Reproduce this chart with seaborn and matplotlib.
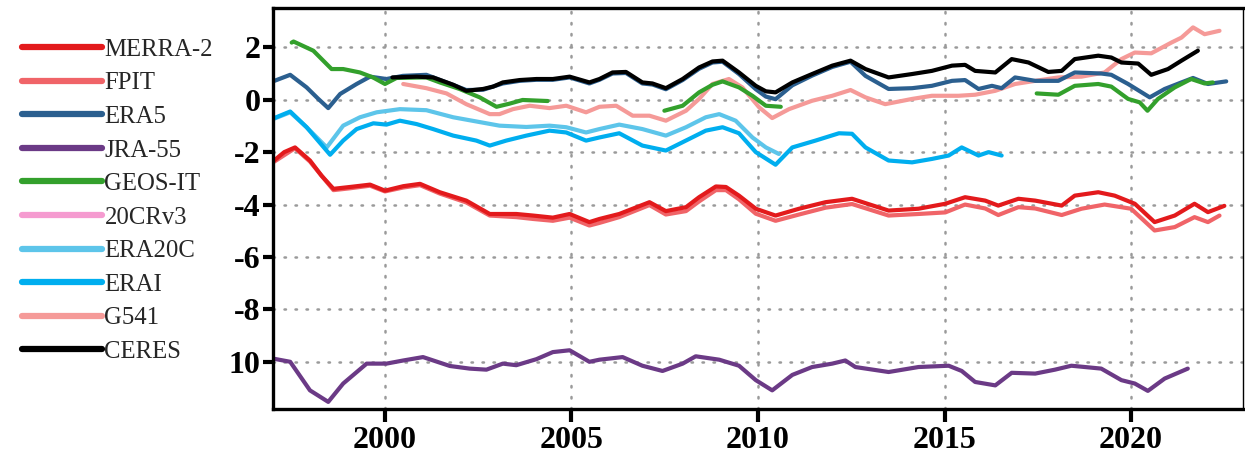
import numpy as np
import pandas as pd
import matplotlib
matplotlib.use("Agg")
import matplotlib.pyplot as plt
import seaborn as sns
from matplotlib.lines import Line2D

# ---------------- data ----------------
series_names = ["MERRA-2", "FPIT", "ERA5", "JRA-55", "GEOS-IT",
                "20CRv3", "ERA20C", "ERAI", "G541", "CERES"]
colors = ["#E31A1C", "#F06468", "#2B5F8F", "#6B3A86", "#33A02C",
          "#F59BD0", "#5DC5EA", "#00AEEF", "#F59A98", "#000000"]

merra2_t = [1996.97, 1997.3, 1997.59, 1997.99, 1998.3, 1998.62, 1999.06, 1999.6, 2000.0, 2000.49,
            2000.94, 2001.47, 2002.18, 2002.81, 2003.52, 2003.97, 2004.5, 2004.95, 2005.48, 2005.75,
            2006.28, 2007.09, 2007.53, 2008.07, 2008.42, 2008.87, 2009.14, 2009.49, 2009.94, 2010.47,
            2011.1, 2011.81, 2012.52, 2013.5, 2014.3, 2015.02, 2015.55, 2016.09, 2016.44, 2016.98,
            2017.43, 2018.14, 2018.49, 2019.12, 2019.56, 2020.1, 2020.63, 2021.17, 2021.7, 2022.06, 2022.5]
merra2_v = [-2.39, -2.0, -1.82, -2.32, -2.9, -3.40, -3.33, -3.24, -3.47, -3.30,
            -3.21, -3.53, -3.85, -4.36, -4.36, -4.42, -4.50, -4.36, -4.67, -4.55,
            -4.36, -3.91, -4.25, -4.10, -3.72, -3.31, -3.33, -3.66, -4.16, -4.42,
            -4.16, -3.91, -3.78, -4.23, -4.16, -3.97, -3.72, -3.85, -4.04, -3.78,
            -3.85, -4.04, -3.66, -3.53, -3.66, -3.97, -4.67, -4.42, -3.97, -4.29, -4.05]

fpit_t = [1996.97, 1997.59, 1997.99, 1998.62, 1999.06, 1999.6, 2000.0, 2000.49, 2000.94, 2001.47,
          2002.18, 2002.81, 2003.52, 2003.97, 2004.5, 2004.95, 2005.48, 2005.75, 2006.28, 2007.09,
          2007.53, 2008.07, 2008.42, 2008.87, 2009.14, 2009.49, 2009.94, 2010.47, 2011.1, 2011.81,
          2012.52, 2013.5, 2014.3, 2015.02, 2015.55, 2016.09, 2016.44, 2016.98, 2017.43, 2018.14,
          2018.67, 2019.29, 2020.0, 2020.63, 2021.17, 2021.7, 2022.06, 2022.37]
fpit_v = [-2.42, -1.85, -2.36, -3.45, -3.38, -3.28, -3.50, -3.35, -3.26, -3.58,
          -3.92, -4.42, -4.48, -4.55, -4.62, -4.50, -4.80, -4.70, -4.48, -4.02,
          -4.38, -4.25, -3.88, -3.45, -3.45, -3.80, -4.35, -4.62, -4.38, -4.12,
          -3.98, -4.42, -4.36, -4.30, -4.00, -4.15, -4.40, -4.10, -4.15, -4.40,
          -4.16, -4.00, -4.16, -4.99, -4.86, -4.48, -4.67, -4.42]

era5_t = [1997.0, 1997.46, 1997.9, 1998.2, 1998.48, 1998.8, 1999.24, 1999.6, 2000.04, 2000.48,
          2001.11, 2001.65, 2002.18, 2002.63, 2003.16, 2003.61, 2004.06, 2004.5, 2004.95, 2005.48,
          2005.75, 2006.1, 2006.46, 2006.9, 2007.17, 2007.53, 2007.98, 2008.42, 2008.78, 2009.05,
          2009.49, 2009.94, 2010.21, 2010.47, 2010.92, 2011.45, 2011.99, 2012.48, 2012.88, 2013.5,
          2014.13, 2014.66, 2015.2, 2015.55, 2015.91, 2016.27, 2016.53, 2016.89, 2017.43, 2018.05,
          2018.49, 2019.2, 2019.47, 2019.92, 2020.5, 2020.9, 2021.35, 2021.66, 2022.06, 2022.55]
era5_v = [0.70, 0.95, 0.47, 0.05, -0.32, 0.22, 0.60, 0.88, 0.79, 0.91,
          0.95, 0.66, 0.37, 0.38, 0.62, 0.72, 0.76, 0.76, 0.85, 0.62,
          0.76, 1.00, 1.02, 0.62, 0.58, 0.40, 0.75, 1.18, 1.42, 1.45,
          0.98, 0.40, 0.12, 0.02, 0.55, 0.92, 1.25, 1.45, 0.91, 0.41,
          0.44, 0.53, 0.72, 0.75, 0.41, 0.53, 0.44, 0.85, 0.72, 0.72,
          1.04, 1.00, 0.95, 0.60, 0.09, 0.41, 0.66, 0.83, 0.60, 0.70]

jra55_t = [1997.01, 1997.46, 1997.99, 1998.48, 1998.88, 1999.51, 2000.04, 2000.49, 2001.02, 2001.74,
           2002.27, 2002.72, 2003.16, 2003.52, 2004.06, 2004.5, 2004.95, 2005.48, 2005.75, 2006.37,
           2006.9, 2007.44, 2007.98, 2008.33, 2008.96, 2009.49, 2009.94, 2010.38, 2010.92, 2011.45,
           2011.99, 2012.34, 2012.61, 2013.5, 2014.3, 2015.11, 2015.46, 2015.82, 2016.36, 2016.8,
           2017.43, 2017.96, 2018.4, 2019.2, 2019.74, 2020.1, 2020.45, 2020.9, 2021.52]
jra55_v = [-9.88, -10.0, -11.09, -11.53, -10.83, -10.07, -10.07, -9.95, -9.82, -10.16,
           -10.26, -10.30, -10.07, -10.13, -9.90, -9.63, -9.56, -10.0, -9.92, -9.82,
           -10.15, -10.35, -10.07, -9.79, -9.92, -10.15, -10.70, -11.09, -10.50, -10.20,
           -10.07, -9.95, -10.20, -10.39, -10.20, -10.15, -10.35, -10.77, -10.90, -10.42,
           -10.45, -10.30, -10.15, -10.26, -10.70, -10.83, -11.11, -10.64, -10.26]

# GEOS-IT comes in three separate pieces
geos_seg = [1] * 17 + [2] * 9 + [3] * 13
geos_t = [1997.5, 1997.55, 1998.08, 1998.57, 1998.88, 1999.33, 1999.68, 2000.0, 2000.31, 2001.11,
          2001.47, 2002.0, 2002.54, 2002.99, 2003.34, 2003.69, 2004.36,
          2007.49, 2007.98, 2008.42, 2008.78, 2009.05, 2009.49, 2009.85, 2010.21, 2010.61,
          2017.47, 2018.05, 2018.49, 2019.12, 2019.47, 2019.92, 2020.23, 2020.44, 2020.72, 2021.17,
          2021.61, 2021.97, 2022.19]
geos_v = [2.18, 2.22, 1.87, 1.17, 1.17, 1.04, 0.85, 0.60, 0.83, 0.85,
          0.66, 0.41, 0.09, -0.27, -0.15, -0.01, -0.05,
          -0.42, -0.23, 0.28, 0.57, 0.70, 0.47, 0.15, -0.23, -0.27,
          0.24, 0.19, 0.53, 0.60, 0.50, 0.03, -0.10, -0.42, 0.03, 0.47,
          0.79, 0.62, 0.66]

era20c_t = [1997.0, 1997.46, 1997.9, 1998.44, 1998.88, 1999.33, 1999.78, 2000.4, 2001.11, 2001.83,
            2002.45, 2003.07, 2003.79, 2004.41, 2004.86, 2005.39, 2005.75, 2006.28, 2006.9, 2007.53,
            2008.07, 2008.6, 2008.96, 2009.4, 2009.85, 2010.21, 2010.56]
era20c_v = [-0.74, -0.48, -1.05, -1.82, -0.99, -0.67, -0.48, -0.36, -0.40, -0.67,
            -0.83, -0.99, -1.04, -0.99, -1.05, -1.25, -1.12, -0.95, -1.12, -1.37,
            -1.05, -0.67, -0.55, -0.80, -1.44, -1.82, -2.07]

erai_t = [1997.0, 1997.46, 1997.9, 1998.2, 1998.53, 1998.88, 1999.24, 1999.69, 2000.04, 2000.4,
          2000.85, 2001.29, 2001.83, 2002.45, 2002.81, 2003.25, 2003.79, 2004.41, 2004.86, 2005.39,
          2005.75, 2006.28, 2006.9, 2007.53, 2008.15, 2008.6, 2009.05, 2009.49, 2009.94, 2010.47,
          2010.92, 2011.54, 2012.17, 2012.52, 2012.88, 2013.5, 2014.13, 2014.66, 2015.11, 2015.46,
          2015.91, 2016.18, 2016.53]
erai_v = [-0.72, -0.45, -1.05, -1.55, -2.10, -1.56, -1.12, -0.90, -0.95, -0.80,
          -0.93, -1.12, -1.37, -1.56, -1.75, -1.56, -1.37, -1.18, -1.25, -1.56,
          -1.44, -1.28, -1.75, -1.94, -1.50, -1.18, -1.05, -1.28, -2.00, -2.48,
          -1.82, -1.56, -1.28, -1.30, -1.82, -2.32, -2.39, -2.26, -2.13, -1.82,
          -2.13, -2.00, -2.13]

g541_t = [2000.49, 2001.11, 2001.65, 2002.18, 2002.81, 2003.07, 2003.43, 2003.88, 2004.41, 2004.86,
          2005.39, 2005.75, 2006.2, 2006.64, 2007.09, 2007.53, 2008.07, 2008.42, 2008.78, 2009.22,
          2009.58, 2010.03, 2010.38, 2010.83, 2011.45, 2011.99, 2012.48, 2012.88, 2013.41, 2014.13,
          2014.66, 2015.37, 2015.82, 2016.36, 2016.89, 2017.43, 2018.05, 2018.67, 2019.29, 2019.74,
          2020.1, 2020.54, 2021.08, 2021.35, 2021.66, 2021.97, 2022.37]
g541_v = [0.60, 0.44, 0.24, -0.17, -0.55, -0.55, -0.36, -0.23, -0.32, -0.23,
          -0.48, -0.27, -0.23, -0.61, -0.61, -0.80, -0.42, 0.03, 0.60, 0.79,
          0.47, -0.29, -0.70, -0.36, -0.04, 0.15, 0.37, 0.09, -0.17, 0.03,
          0.15, 0.15, 0.19, 0.34, 0.60, 0.72, 0.85, 0.88, 1.04, 1.55,
          1.80, 1.77, 2.18, 2.37, 2.76, 2.50, 2.63]

ceres_t = [2000.2, 2000.85, 2001.29, 2001.83, 2002.18, 2002.63, 2002.9, 2003.16, 2003.61, 2004.06,
           2004.5, 2004.95, 2005.48, 2005.75, 2006.1, 2006.46, 2006.9, 2007.17, 2007.53, 2007.98,
           2008.42, 2008.78, 2009.05, 2009.49, 2009.94, 2010.21, 2010.47, 2010.92, 2011.45, 2011.99,
           2012.48, 2012.88, 2013.5, 2014.13, 2014.66, 2015.2, 2015.55, 2015.82, 2016.36, 2016.8,
           2017.25, 2017.78, 2018.14, 2018.49, 2019.12, 2019.47, 2019.74, 2020.19, 2020.54, 2020.99,
           2021.35, 2021.79]
ceres_v = [0.85, 0.88, 0.85, 0.57, 0.34, 0.41, 0.50, 0.66, 0.75, 0.79,
           0.79, 0.88, 0.66, 0.79, 1.04, 1.06, 0.66, 0.62, 0.44, 0.79,
           1.23, 1.46, 1.49, 1.04, 0.53, 0.32, 0.28, 0.66, 0.98, 1.30,
           1.49, 1.17, 0.85, 0.98, 1.10, 1.30, 1.33, 1.10, 1.04, 1.55,
           1.42, 1.06, 1.10, 1.55, 1.68, 1.61, 1.42, 1.38, 0.95, 1.17,
           1.49, 1.87]

ytick_vals = [2, 0, -2, -4, -6, -8, -10]
ytick_labels = ["2", "0", "-2", "-4", "-6", "-8", "10"]
xtick_vals = [2000, 2005, 2010, 2015, 2020]
xtick_labels = ["2000", "2005", "2010", "2015", "2020"]

# ---------------- build a long table ----------------
def frame(name, t, v, seg=None):
    return pd.DataFrame({"year": t, "value": v, "series": name,
                         "seg": seg if seg is not None else [1] * len(t)})

df = pd.concat([
    frame("G541", g541_t, g541_v),
    frame("ERA20C", era20c_t, era20c_v),
    frame("ERAI", erai_t, erai_v),
    frame("FPIT", fpit_t, fpit_v),
    frame("MERRA-2", merra2_t, merra2_v),
    frame("JRA-55", jra55_t, jra55_v),
    frame("ERA5", era5_t, era5_v),
    frame("GEOS-IT", geos_t, geos_v, geos_seg),
    frame("CERES", ceres_t, ceres_v),
], ignore_index=True)

palette = dict(zip(series_names, colors))

# ---------------- plot ----------------
sns.set_style("ticks")
plt.rcParams["font.family"] = ["Liberation Serif", "DejaVu Serif"]

fig = plt.figure(figsize=(12.45, 4.59), dpi=100)
ax = fig.add_axes([0.2193, 0.109, 0.7791, 0.8736])

draw_order = ["G541", "ERA20C", "ERAI", "FPIT", "MERRA-2", "JRA-55", "ERA5", "GEOS-IT", "CERES"]
for name in draw_order:
    sub = df[df["series"] == name]
    sns.lineplot(data=sub, x="year", y="value", units="seg", estimator=None,
                 sort=False, color=palette[name], lw=3.0, ax=ax, legend=False,
                 solid_capstyle="round", solid_joinstyle="round")

ax.set_xlim(1997, 2023)
ax.set_ylim(-11.8, 3.5)
ax.set_xticks(xtick_vals)
ax.set_xticklabels(xtick_labels)
ax.set_yticks(ytick_vals)
ax.set_yticklabels(ytick_labels)
ax.set_xlabel("")
ax.set_ylabel("")

ax.grid(True, color="#9a9a9a", lw=1.8, linestyle=(0, (0.6, 3.8)),
        dash_capstyle="round")
ax.set_axisbelow(True)

for side in ["left", "bottom", "top"]:
    ax.spines[side].set_linewidth(2.4)
    ax.spines[side].set_color("black")
ax.spines["right"].set_linewidth(1.0)
ax.spines["right"].set_color("black")

ax.tick_params(axis="y", direction="out", length=7, width=3, pad=2,
               labelsize=23, colors="black")
ax.tick_params(axis="x", direction="out", length=9, width=3, pad=3,
               labelsize=23, colors="black")
for lab in ax.get_xticklabels() + ax.get_yticklabels():
    lab.set_fontweight("bold")

handles = [Line2D([0], [0], color=c, lw=4.5, solid_capstyle="round") for c in colors]
fig.legend(handles, series_names, loc="upper left", bbox_to_anchor=(0.018, 0.916),
           frameon=False, borderpad=0, borderaxespad=0, handlelength=3.2,
           handletextpad=0.12, labelspacing=0.455, prop={"family": "Liberation Serif", "size": 17.8})

fig.savefig("out.png", dpi=100)
